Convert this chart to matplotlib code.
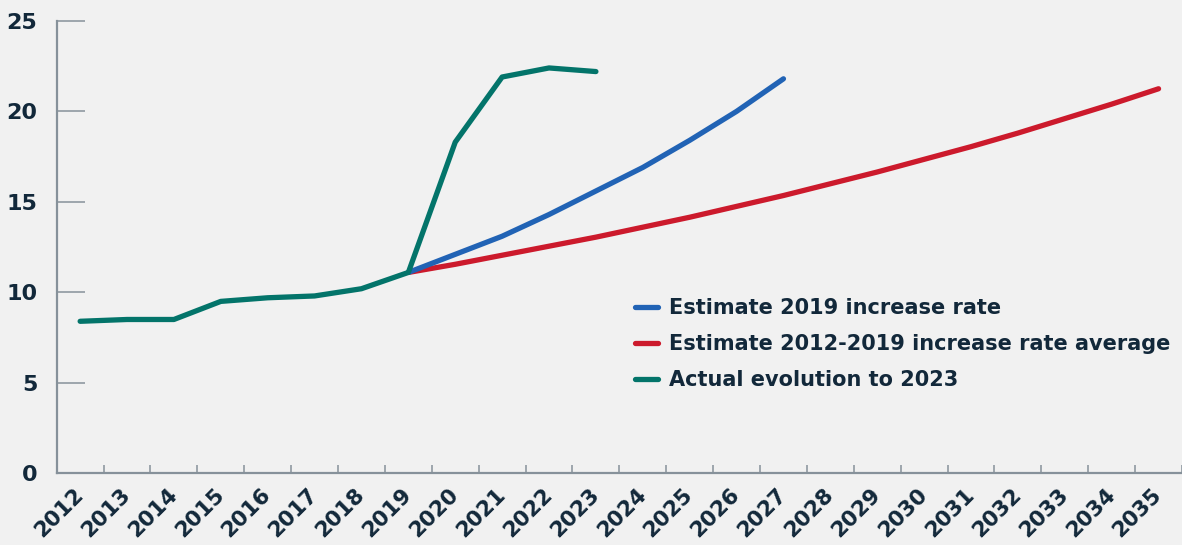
import matplotlib.pyplot as plt
import numpy as np

# categories
years = [str(y) for y in range(2012, 2036)]

# values
actual = [8.4, 8.5, 8.5, 9.5, 9.7, 9.8, 10.2, 11.1, 18.3, 21.9, 22.4, 22.2]
est_2019 = [11.1, 12.1, 13.1, 14.3, 15.6, 16.9, 18.4, 20.0, 21.8]
est_avg = [11.1, 11.55, 12.05, 12.55, 13.05, 13.6, 14.15, 14.75, 15.35,
           16.0, 16.65, 17.35, 18.05, 18.8, 19.6, 20.4, 21.25]

labels = ['Estimate 2019 increase rate',
          'Estimate 2012-2019 increase rate average',
          'Actual evolution to 2023']

bg = '#f1f1f1'
ink = '#12283a'
axis_col = '#86919a'

plt.rcParams['font.family'] = ['DejaVu Sans']
plt.rcParams['font.weight'] = 'bold'
plt.rcParams['lines.solid_capstyle'] = 'round'
plt.rcParams['lines.solid_joinstyle'] = 'round'

fig = plt.figure(figsize=(11.82, 5.45), dpi=100, facecolor=bg)
ax = fig.add_axes([56.7 / 1182, (545 - 473.3) / 545, 1 - 56.7 / 1182, (473.3 - 20.9) / 545])
ax.set_facecolor(bg)

x = np.arange(len(years))
i19 = years.index('2019')
ax.plot(x[i19:i19 + len(est_2019)], est_2019, color='#2163b5', lw=3.8, label=labels[0], zorder=3)
ax.plot(x[i19:i19 + len(est_avg)], est_avg, color='#cc1a2c', lw=3.8, label=labels[1], zorder=2)
ax.plot(x[:len(actual)], actual, color='#03746a', lw=3.8, label=labels[2], zorder=4)

ax.set_ylim(0, 25)
ax.set_xlim(-0.5, -0.5 + (1182 - 56.7) / 47.25)

for s in ['top', 'right']:
    ax.spines[s].set_visible(False)
for s in ['left', 'bottom']:
    ax.spines[s].set_color(axis_col)
    ax.spines[s].set_linewidth(1.6)

ax.set_yticks([0, 5, 10, 15, 20, 25])
ax.tick_params(axis='y', direction='in', length=20, width=1.1, color=axis_col,
               labelsize=16, labelcolor=ink, pad=14)
ax.yaxis.get_major_ticks()[0].tick1line.set_visible(False)

# tick marks between categories, labels at category centres
ax.set_xticks(x + 0.5, minor=True)
ax.tick_params(axis='x', which='minor', direction='in', length=6, width=1.1, color=axis_col)
ax.set_xticks(x)
ax.set_xticklabels(years, rotation=45, ha='right', va='center', rotation_mode='anchor')
ax.tick_params(axis='x', which='major', length=0, labelsize=15.5, labelcolor=ink, pad=13)

handles, labs = ax.get_legend_handles_labels()
leg = fig.legend(handles, labs, loc='upper left', bbox_to_anchor=(635 / 1182, 1 - 298 / 545),
                 bbox_transform=fig.transFigure, frameon=False, fontsize=15,
                 handlelength=1.1, handletextpad=0.55, labelspacing=0.78,
                 borderpad=0, borderaxespad=0)
for t in leg.get_texts():
    t.set_color(ink)

fig.savefig('out.png', dpi=100, facecolor=bg)
